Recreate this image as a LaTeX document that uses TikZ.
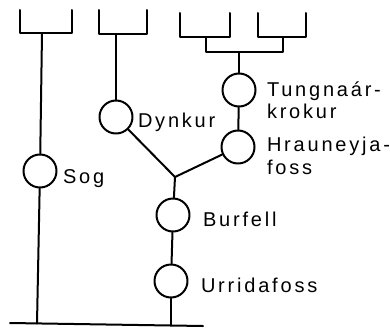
\documentclass[tikz,border=0pt]{standalone}
\usepackage{fontspec}
\setmainfont{Liberation Sans}[LetterSpace=14]
\begin{document}
\begin{tikzpicture}[x=1pt,y=-1pt,line width=2pt,line cap=round,line join=round,
  plant/.style={circle,draw,minimum size=33pt,inner sep=0pt},
  lbl/.style={anchor=base west,inner sep=0pt,font=\fontsize{20}{24}\selectfont}]
\useasboundingbox (0,0) rectangle (390,329);
% top brackets
\draw (20,10) -- (20,33) -- (72,33) -- (72,10);
\draw (99,10) -- (99,34) -- (147,34) -- (147,10);
\draw (180,13) -- (180,37) -- (230,37) -- (230,13);
\draw (258,13) -- (258,37) -- (306,37) -- (306,13);
\coordinate (b1) at (42,33);
\coordinate (b2) at (116,34);
\coordinate (b3) at (206,37);
\coordinate (b4) at (283,37);
\coordinate (j34a) at (206,52);
\coordinate (j34b) at (283,52);
\coordinate (j34) at (239,52);
\draw (b3) -- (j34a) -- (j34b) -- (b4);
% plants
\node[plant] (sog) at (40,171) {};
\node[plant] (dyn) at (116,117) {};
\node[plant] (tung) at (239,90) {};
\node[plant] (hrau) at (238,147) {};
\node[plant] (bur) at (173,215) {};
\node[plant] (urr) at (171,281) {};
\coordinate (j) at (175,177);
\coordinate (baseL) at (10,323);
\coordinate (baseR) at (203,326);
\coordinate (sogB) at (37,323.5);
\coordinate (urrB) at (171,325.5);
% connectors
\draw (b1) -- (sog);
\draw (sog) -- (sogB);
\draw (b2) -- (dyn);
\draw (j34) -- (tung);
\draw (tung) -- (hrau);
\draw (dyn) -- (j);
\draw (hrau) -- (j);
\draw (j) -- (bur);
\draw (bur) -- (urr);
\draw (urr) -- (urrB);
\draw (baseL) -- (baseR);
% labels
\node[lbl] (tsog) at (62,183) {Sog};
\node[lbl] (tdyn) at (137,127) {Dynkur};
\node[lbl] (ttung1) at (266,96) {Tungnaár-};
\node[lbl] (ttung2) at (266,118) {krokur};
\node[lbl] (thrau1) at (266,151) {Hrauneyja-};
\node[lbl] (thrau2) at (266,174) {foss};
\node[lbl] (tbur) at (202,226) {Burfell};
\node[lbl] (turr) at (200,292) {Urridafoss};
\end{tikzpicture}
\end{document}
